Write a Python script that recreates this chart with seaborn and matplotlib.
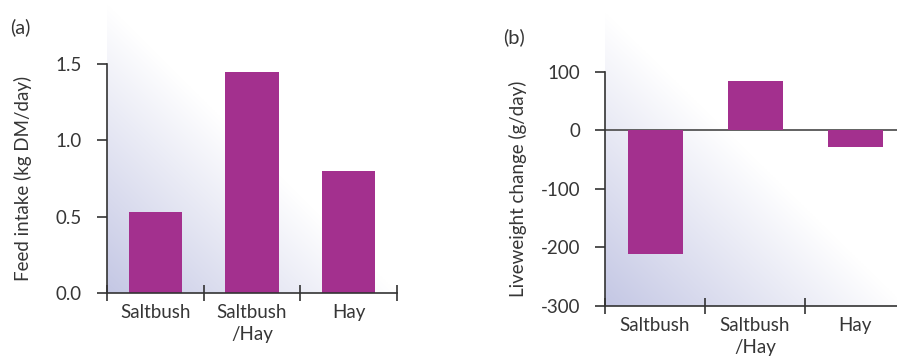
import numpy as np
import matplotlib
matplotlib.use("Agg")
import matplotlib.pyplot as plt
from matplotlib.colors import LinearSegmentedColormap
from matplotlib.ticker import FixedLocator
import seaborn as sns

# Data
categories = ["Saltbush", "Saltbush\n/Hay", "Hay"]
feed_intake = [0.53, 1.45, 0.80]           # kg DM/day
liveweight_change = [-212, 84, -29]         # g/day
feed_ticks = [0.0, 0.5, 1.0, 1.5]
feed_tick_labels = ["0.0", "0.5", "1.0", "1.5"]
lw_ticks = [-300, -200, -100, 0, 100]
lw_tick_labels = ["-300", "-200", "-100", "0", "100"]

sns.set_theme(style="white")
plt.rcParams["font.family"] = ["Lato", "DejaVu Sans"]
plt.rcParams["axes.unicode_minus"] = False

BAR = "#a3308e"
INK = "#363636"
AXIS = "#333333"
FS = 13.5

fig = plt.figure(figsize=(8.97, 3.58), dpi=100)
W, H = 897, 358


def px_rect(left, right, bottom, top):
    return [left / W, (H - bottom) / H, (right - left) / W, (bottom - top) / H]


shade = LinearSegmentedColormap.from_list("shade", ["#ffffff", "#c4c7e4"])


def backdrop(rect):
    bg = fig.add_axes(rect, zorder=0)
    u, v = np.meshgrid(np.linspace(0, 1, 400), np.linspace(0, 1, 400))
    t = np.clip(1.0 - u - v, 0, 1)
    bg.imshow(t, cmap=shade, vmin=0, vmax=1, origin="lower",
              extent=(0, 1, 0, 1), aspect="auto", interpolation="bilinear")
    bg.set_axis_off()


def style(ax, yticks, ylabels, ybounds, ylabel, label_xy):
    ax.set_facecolor("none")
    for s in ["top", "right"]:
        ax.spines[s].set_visible(False)
    for s in ["left", "bottom"]:
        ax.spines[s].set_color(AXIS)
        ax.spines[s].set_linewidth(1.2)
    ax.spines["left"].set_bounds(*ybounds)
    ax.set_xlim(-0.5, len(categories) - 0.5)
    ax.set_yticks(yticks)
    ax.set_yticklabels(ylabels)
    ax.tick_params(axis="y", direction="out", length=7, width=1.2,
                   color=AXIS, labelcolor=INK, labelsize=FS, pad=11, left=True)
    ax.set_xticks(range(len(categories)))
    ax.set_xticklabels(categories, linespacing=1.35)
    ax.xaxis.set_minor_locator(FixedLocator(np.arange(-0.5, len(categories), 1.0)))
    ax.tick_params(axis="x", which="major", length=0, labelcolor=INK,
                   labelsize=FS, pad=8)
    ax.tick_params(axis="x", which="minor", direction="inout", length=12,
                   width=1.2, color=AXIS, bottom=True)
    ax.set_xlabel("")
    ax.set_ylabel(ylabel, fontsize=FS, color=INK)
    ax.yaxis.set_label_coords(*label_xy)


# (a) Feed intake
rect_a = px_rect(107, 397, 293, 5)
backdrop(rect_a)
ax_a = fig.add_axes(rect_a, zorder=1)
sns.barplot(x=categories, y=feed_intake, color=BAR, saturation=1, width=0.55,
            edgecolor="none", ax=ax_a)
ax_a.set_ylim(0, 288 / 152.5)
style(ax_a, feed_ticks, feed_tick_labels, (0, 1.5),
      "Feed intake (kg DM/day)", (-0.26, 0.397))

# (b) Liveweight change
rect_b = px_rect(605, 905, 306, 13)
backdrop(rect_b)
ax_b = fig.add_axes(rect_b, zorder=1)
ax_b.axhline(0, color="#555555", lw=1.3, zorder=1)
sns.barplot(x=categories, y=liveweight_change, color=BAR, saturation=1,
            width=0.55, edgecolor="none", ax=ax_b, zorder=2)
ax_b.set_ylim(-300, -300 + 293 / 0.586)
style(ax_b, lw_ticks, lw_tick_labels, (-300, 100),
      "Liveweight change (g/day)", (-0.26, 0.40))

fig.text(10 / W, 1 - 27 / H, "(a)", fontsize=14.5, color=INK, va="center")
fig.text(503 / W, 1 - 37 / H, "(b)", fontsize=14.5, color=INK, va="center")

fig.savefig("out.png", dpi=100)
